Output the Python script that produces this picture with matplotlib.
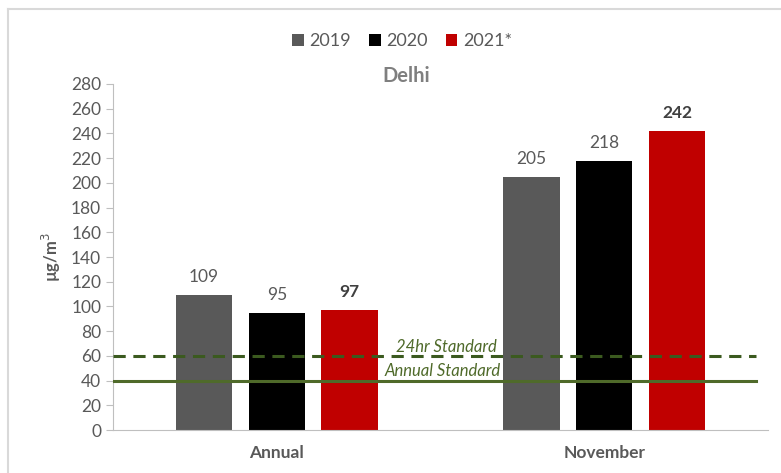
import matplotlib.pyplot as plt
import numpy as np

plt.rcParams['font.family'] = ['Lato', 'DejaVu Sans']

categories = ['Annual', 'November']
years = ['2019', '2020', '2021*']
values = {
    '2019': [109, 205],
    '2020': [95, 218],
    '2021*': [97, 242],
}
colors = ['#595959', '#000000', '#C00000']
std_24hr = 60
std_annual = 40

fig = plt.figure(figsize=(7.81, 4.73), dpi=100)
ax = fig.add_axes([113 / 781, 1 - 430 / 473, 655 / 781, 346 / 473])

# light frame round the chart area
fig.add_artist(plt.Line2D([8 / 781, 8 / 781], [0, 1 - 9 / 473], transform=fig.transFigure,
                          color='#d9d9d9', lw=1.5))
fig.add_artist(plt.Line2D([8 / 781, 1], [1 - 9 / 473, 1 - 9 / 473], transform=fig.transFigure,
                          color='#d9d9d9', lw=1.5))

x = np.arange(len(categories))
width = 0.172
offset = 0.222
for i, yr in enumerate(years):
    pos = x + (i - 1) * offset
    bars = ax.bar(pos, values[yr], width, color=colors[i], label=yr, zorder=2)
    bold = yr == '2021*'
    for b, v in zip(bars, values[yr]):
        ax.text(b.get_x() + b.get_width() / 2, v + 8, str(v), ha='center', va='bottom',
                fontsize=12.5, color='#404040' if bold else '#595959',
                fontweight='bold' if bold else 'normal')

# standards
ax.plot([-0.5, 1.463], [std_24hr, std_24hr], ls=(0, (4, 2.5)), color='#3B5A1F', lw=2.2, zorder=3)
ax.plot([-0.5, 1.463], [std_annual, std_annual], ls='-', color='#4F6A2A', lw=2.2, zorder=3)
ax.text(0.517, std_24hr + 1, '24hr Standard', ha='center', va='bottom', style='italic',
        fontsize=12, color='#4F6A2A', zorder=4)
ax.text(0.505, std_annual + 1, 'Annual Standard', ha='center', va='bottom', style='italic',
        fontsize=12, color='#4F6A2A', zorder=4)

ax.set_xlim(-0.5, 1.5)
ax.set_ylim(0, 280)
ax.set_yticks(range(0, 281, 20))
ax.set_xticks(x)
ax.set_xticklabels(categories, fontweight='bold', fontsize=12.5, color='#595959')
ax.tick_params(axis='x', length=0, pad=11)
ax.tick_params(axis='y', labelsize=12.5, labelcolor='#595959', color='#bfbfbf', length=5)
for s in ['top', 'right']:
    ax.spines[s].set_visible(False)
for s in ['left', 'bottom']:
    ax.spines[s].set_color('#bfbfbf')

ax.set_ylabel('µg/m$^3$', fontsize=12, fontweight='bold', color='#595959', labelpad=6)

fig.text(406 / 781, 1 - 76 / 473, 'Delhi', ha='center', va='center', fontsize=14.5,
         fontweight='bold', color='#7f7f7f')
fig.legend(loc='center', bbox_to_anchor=(402 / 781, 1 - 41 / 473), ncol=3, frameon=False,
           fontsize=13, labelcolor='#595959', handlelength=0.65, handleheight=0.65,
           handletextpad=0.3, columnspacing=1.0)

fig.savefig('out.png', dpi=100)
